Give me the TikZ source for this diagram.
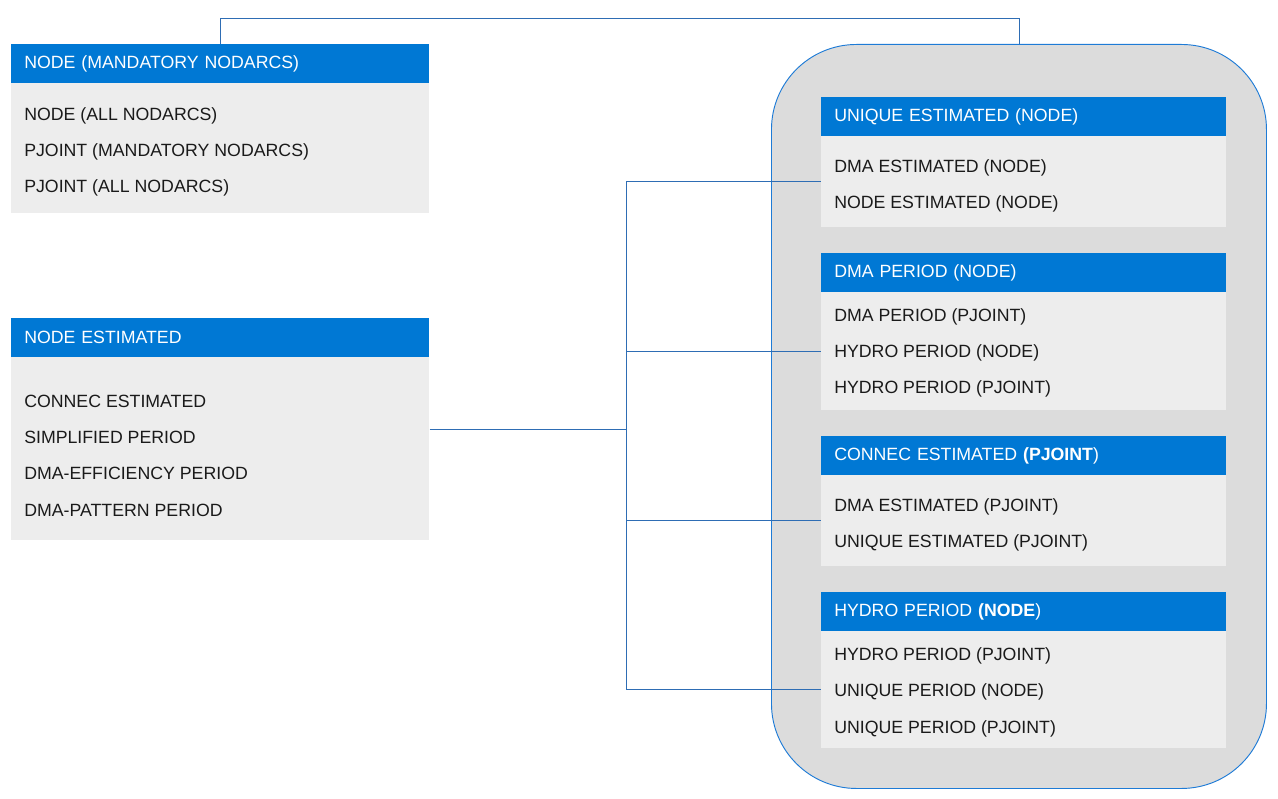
\documentclass[tikz,border=0pt]{standalone}
\usepackage{fontspec}
\setmainfont{Liberation Sans}
\usepackage{tikz}
\usetikzlibrary{positioning}
\definecolor{headblue}{HTML}{0078D4}
\definecolor{bodygray}{HTML}{EDEDED}
\definecolor{groupgray}{HTML}{DCDCDC}
\definecolor{groupline}{HTML}{1E7BD6}
\definecolor{linkblue}{HTML}{2E6DB4}
\definecolor{textdark}{HTML}{1A1A1A}

\begin{document}
\begin{tikzpicture}[
    x=0.75pt, y=-0.75pt,
    every node/.style={font=\fontsize{13.3}{15}\selectfont},
    headL/.style={rectangle, fill=headblue, text=white, anchor=north west, inner xsep=9.75pt, inner ysep=0pt, text width=294pt, minimum height=29.25pt, align=left},
    headR/.style={headL, text width=284.25pt},
    bodyL/.style={rectangle, fill=bodygray, anchor=north west, inner sep=0pt, minimum width=313.5pt},
    bodyR/.style={bodyL, minimum width=303.75pt},
    item/.style={anchor=west, inner sep=0pt, text=textdark, text height=9.7pt, text depth=2.8pt, yshift=-1.5pt},
    link/.style={draw=linkblue, line width=0.7pt},
]
\useasboundingbox (0,0) rectangle (1278,799);
% right group
\node[rectangle, rounded corners=63.75pt, draw=groupline, fill=groupgray, line width=0.7pt, anchor=north west,
      minimum width=371.25pt, minimum height=558pt, inner sep=0pt] (group) at (771,44) {};

% left boxes
\node[headL] (mandhead) at (11,44) {NODE (MANDATORY NODARCS)};
\node[bodyL, minimum height=97.5pt] (mandbody) at (11,83) {};
\node[item] (mand1) at (24,114) {NODE (ALL NODARCS)};
\node[item] (mand2) at (24,150) {PJOINT (MANDATORY NODARCS)};
\node[item] (mand3) at (24,186) {PJOINT (ALL NODARCS)};

\node[headL] (esthead) at (11,318) {NODE ESTIMATED};
\node[bodyL, minimum height=137.25pt] (estbody) at (11,357) {};
\node[item] (est1) at (24,401) {CONNEC ESTIMATED};
\node[item] (est2) at (24,437) {SIMPLIFIED PERIOD};
\node[item] (est3) at (24,473) {DMA-EFFICIENCY PERIOD};
\node[item] (est4) at (24,510) {DMA-PATTERN PERIOD};

% boxes inside the group
\node[headR] (uniqhead) at (821,97) {UNIQUE ESTIMATED (NODE)};
\node[bodyR, minimum height=68.25pt] (uniqbody) at (821,136) {};
\node[item] (uniq1) at (834,166) {DMA ESTIMATED (NODE)};
\node[item] (uniq2) at (834,202) {NODE ESTIMATED (NODE)};

\node[headR] (dmahead) at (821,253) {DMA PERIOD (NODE)};
\node[bodyR, minimum height=88.5pt] (dmabody) at (821,292) {};
\node[item] (dma1) at (834,315) {DMA PERIOD (PJOINT)};
\node[item] (dma2) at (834,351) {HYDRO PERIOD (NODE)};
\node[item] (dma3) at (834,387) {HYDRO PERIOD (PJOINT)};

\node[headR] (conhead) at (821,436) {CONNEC ESTIMATED \textbf{(PJOINT})};
\node[bodyR, minimum height=68.25pt] (conbody) at (821,475) {};
\node[item] (con1) at (834,505) {DMA ESTIMATED (PJOINT)};
\node[item] (con2) at (834,541) {UNIQUE ESTIMATED (PJOINT)};

\node[headR] (hydhead) at (821,592) {HYDRO PERIOD \textbf{(NODE})};
\node[bodyR, minimum height=87.75pt] (hydbody) at (821,631) {};
\node[item] (hyd1) at (834,654) {HYDRO PERIOD (PJOINT)};
\node[item] (hyd2) at (834,690) {UNIQUE PERIOD (NODE)};
\node[item] (hyd3) at (834,727) {UNIQUE PERIOD (PJOINT)};

% connectors
\coordinate (split) at (626,429);
\draw[link] (mandhead.north) -- ++(0,-26) -| (group.north);
\draw[link] (split -| estbody.east) -- (split);
\draw[link] (split |- uniqbody.west) -- (split |- hydbody.west);
\foreach \b in {uniqbody, dmabody, conbody, hydbody}
    \draw[link] (split |- \b.west) -- (\b.west);
\end{tikzpicture}
\end{document}
